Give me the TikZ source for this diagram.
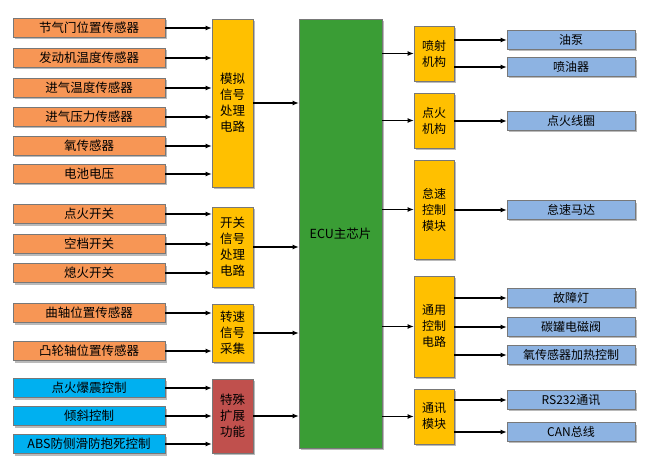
\documentclass[tikz,border=0pt]{standalone}
\usepackage{fontspec}
\setmainfont{Noto Sans CJK SC}
\usepackage{xcolor}
\definecolor{sorange}{RGB}{247,150,85}
\definecolor{syellow}{RGB}{255,192,0}
\definecolor{sgreen}{RGB}{58,157,53}
\definecolor{sblue}{RGB}{0,176,240}
\definecolor{sred}{RGB}{192,80,77}
\definecolor{lblue}{RGB}{141,179,226}
\definecolor{bgrey}{RGB}{120,120,120}
\usetikzlibrary{shadows}
\usetikzlibrary{arrows.meta}
\tikzset{
box/.style={draw=bgrey, line width=0.6pt, inner sep=0pt, font=\fontsize{12.5}{16}\selectfont,
  drop shadow={shadow xshift=2pt, shadow yshift=-2pt, opacity=0.45, fill=black!60}},
sensor/.style={box, fill=sorange, minimum width=152pt, minimum height=19pt},
special/.style={box, fill=sblue, minimum width=152pt, minimum height=19pt},
stage/.style={box, fill=syellow, minimum width=41pt, align=center},
actuator/.style={box, fill=lblue, minimum width=128pt, minimum height=18.5pt, font=\fontsize{12}{15}\selectfont},
sig/.style={-{Latex[length=6pt,width=5pt]}, line width=1.1pt},
}

\begin{document}
\begin{tikzpicture}[x=1pt,y=-1pt]
\useasboundingbox (0,0) rectangle (650,473);
% inputs
\node[sensor] (s1) at (89,28) {节气门位置传感器};
\node[sensor] (s2) at (89,58) {发动机温度传感器};
\node[sensor] (s3) at (89,88) {进气温度传感器};
\node[sensor] (s4) at (89,117) {进气压力传感器};
\node[sensor] (s5) at (89,146) {氧传感器};
\node[sensor] (s6) at (89,174) {电池电压};
\node[sensor] (s7) at (89,214) {点火开关};
\node[sensor] (s8) at (89,244) {空档开关};
\node[sensor] (s9) at (89,273) {熄火开关};
\node[sensor] (s10) at (89,313) {曲轴位置传感器};
\node[sensor] (s11) at (89,351) {凸轮轴位置传感器};
\node[special] (s12) at (89,388) {点火爆震控制};
\node[special] (s13) at (89,416) {倾斜控制};
\node[special] (s14) at (89,444) {ABS防侧滑防抱死控制};
% signal stages
\node[stage, minimum height=168pt] (m1) at (232.5,103) {模拟\\信号\\处理\\电路};
\node[stage, minimum height=80pt] (m2) at (232.5,247) {开关\\信号\\处理\\电路};
\node[stage, minimum height=58pt] (m3) at (232.5,333) {转速\\信号\\采集};
\node[stage, minimum height=74pt, fill=sred] (m4) at (232.5,416) {特殊\\扩展\\功能};
% ecu
\node[box, fill=sgreen, minimum width=83pt, minimum height=429pt] (ecu) at (340.5,233.5) {ECU主芯片};
% output stages
\node[stage, minimum width=40pt, minimum height=55pt, font=\fontsize{12}{16}\selectfont] (r1) at (434,53.5) {喷射\\机构};
\node[stage, minimum width=40pt, minimum height=55pt, font=\fontsize{12}{16}\selectfont] (r2) at (434,120.5) {点火\\机构};
\node[stage, minimum width=40pt, minimum height=99pt, font=\fontsize{12}{16}\selectfont] (r3) at (434,209.5) {怠速\\控制\\模块};
\node[stage, minimum width=40pt, minimum height=101pt, font=\fontsize{12}{16}\selectfont] (r4) at (434,326.5) {通用\\控制\\电路};
\node[stage, minimum width=40pt, minimum height=55pt, font=\fontsize{12}{16}\selectfont] (r5) at (434,416.5) {通讯\\模块};
% actuators
\node[actuator] (a1) at (571,40) {油泵};
\node[actuator] (a2) at (571,67) {喷油器};
\node[actuator] (a3) at (571,121) {点火线圈};
\node[actuator] (a4) at (571,210) {怠速马达};
\node[actuator] (a5) at (571,298) {故障灯};
\node[actuator] (a6) at (571,327) {碳罐电磁阀};
\node[actuator] (a7) at (571,355) {氧传感器加热控制};
\node[actuator] (a8) at (571,400) {RS232通讯};
\node[actuator] (a9) at (571,432) {CAN总线};

\draw[sig] (s1.east) -- (s1.east -| m1.west);
\draw[sig] (s2.east) -- (s2.east -| m1.west);
\draw[sig] (s3.east) -- (s3.east -| m1.west);
\draw[sig] (s4.east) -- (s4.east -| m1.west);
\draw[sig] (s5.east) -- (s5.east -| m1.west);
\draw[sig] (s6.east) -- (s6.east -| m1.west);
\draw[sig] (s7.east) -- (s7.east -| m2.west);
\draw[sig] (s8.east) -- (s8.east -| m2.west);
\draw[sig] (s9.east) -- (s9.east -| m2.west);
\draw[sig] (s10.east) -- (s10.east -| m3.west);
\draw[sig] (s11.east) -- (s11.east -| m3.west);
\draw[sig] (s12.east) -- (s12.east -| m4.west);
\draw[sig] (s13.east) -- (s13.east -| m4.west);
\draw[sig] (s14.east) -- (s14.east -| m4.west);
%
\draw[sig] (m1.east) -- (m1.east -| ecu.west);
\draw[sig] (m2.east) -- (m2.east -| ecu.west);
\draw[sig] (m3.east) -- (m3.east -| ecu.west);
\draw[sig] (m4.east) -- (m4.east -| ecu.west);
%
\draw[sig] (r1.west -| ecu.east) -- (r1.west);
\draw[sig] (r2.west -| ecu.east) -- (r2.west);
\draw[sig] (r3.west -| ecu.east) -- (r3.west);
\draw[sig] (r4.west -| ecu.east) -- (r4.west);
\draw[sig] (r5.west -| ecu.east) -- (r5.west);
%
\draw[sig] (a1.west -| r1.east) -- (a1.west);
\draw[sig] (a2.west -| r1.east) -- (a2.west);
\draw[sig] (a3.west -| r2.east) -- (a3.west);
\draw[sig] (a4.west -| r3.east) -- (a4.west);
\draw[sig] (a5.west -| r4.east) -- (a5.west);
\draw[sig] (a6.west -| r4.east) -- (a6.west);
\draw[sig] (a7.west -| r4.east) -- (a7.west);
\draw[sig] (a8.west -| r5.east) -- (a8.west);
\draw[sig] (a9.west -| r5.east) -- (a9.west);
\end{tikzpicture}
\end{document}
